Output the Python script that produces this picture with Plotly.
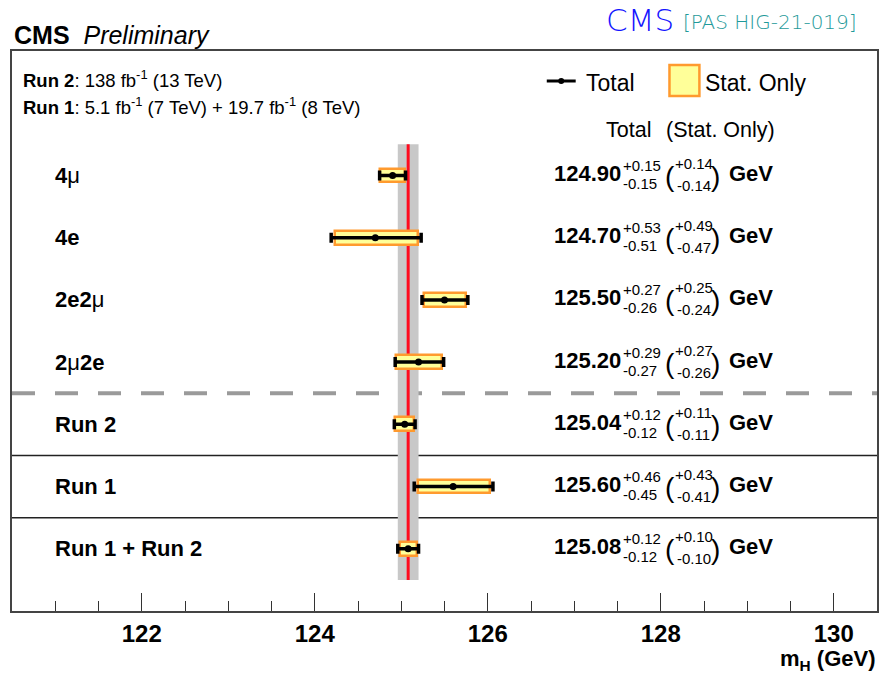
import plotly.graph_objects as go

# Higgs boson mass measurements in the H -> ZZ -> 4l channel
labels = ["<b>4</b>μ", "<b>4e</b>", "<b>2e2</b>μ", "<b>2</b>μ<b>2e</b>",
          "<b>Run 2</b>", "<b>Run 1</b>", "<b>Run 1 + Run 2</b>"]
mass = [124.90, 124.70, 125.50, 125.20, 125.04, 125.60, 125.08]
tot_hi = [0.15, 0.53, 0.27, 0.29, 0.12, 0.46, 0.12]
tot_lo = [0.15, 0.51, 0.26, 0.27, 0.12, 0.45, 0.12]
stat_hi = [0.14, 0.49, 0.25, 0.27, 0.11, 0.43, 0.10]
stat_lo = [0.14, 0.47, 0.24, 0.26, 0.11, 0.41, 0.10]

x_ticks = [122, 124, 126, 128, 130]

W, H = 881, 675
ML, MR, MT, MB = 12, 2, 51, 64
PW, PH = W - ML - MR, H - MT - MB

XMIN, XMAX = 120.5, 130.5
YMIN, YMAX = -1.0, 8.0

n = len(labels)
ypos = list(range(n - 1, -1, -1))

YELLOW = "#ffff99"
ORANGE = "#ff9a2e"
FONT = "Liberation Sans, Arial, Helvetica, sans-serif"


def px(xp):
    return (xp - ML) / PW


def py(yp):
    return (MT + PH - yp) / PH


def ypix(yv):
    return MT + (YMAX - yv) / (YMAX - YMIN) * PH


fig = go.Figure()

# stat-only boxes
fig.add_trace(go.Bar(
    orientation="h",
    y=ypos,
    x=[a + b for a, b in zip(stat_lo, stat_hi)],
    base=[m - lo for m, lo in zip(mass, stat_lo)],
    width=0.22,
    marker=dict(color=YELLOW, line=dict(color=ORANGE, width=2.5)),
    showlegend=False,
    hoverinfo="skip",
))

# total uncertainty bars with central value
fig.add_trace(go.Scatter(
    x=mass,
    y=ypos,
    mode="markers",
    marker=dict(color="black", size=7),
    error_x=dict(type="data", symmetric=False, array=tot_hi, arrayminus=tot_lo,
                 color="black", thickness=3.5, width=5),
    showlegend=False,
    hoverinfo="skip",
))

# combined result band and central line
comb = n - 1
shapes = [
    dict(type="rect", xref="x", yref="y",
         x0=mass[comb] - tot_lo[comb], x1=mass[comb] + tot_hi[comb],
         y0=-0.5, y1=n - 0.5, fillcolor="#c8c8c8", line=dict(width=0), layer="below"),
    dict(type="line", xref="paper", yref="y", x0=0, x1=1, y0=2.5, y1=2.5,
         line=dict(color="#9a9a9a", width=4, dash="23px,20px"), layer="below"),
    dict(type="line", xref="paper", yref="y", x0=0, x1=1, y0=1.5, y1=1.5,
         line=dict(color="#222222", width=1.5), layer="below"),
    dict(type="line", xref="paper", yref="y", x0=0, x1=1, y0=0.5, y1=0.5,
         line=dict(color="#222222", width=1.5), layer="below"),
    dict(type="line", xref="x", yref="y", x0=mass[comb], x1=mass[comb],
         y0=-0.5, y1=n - 0.5, line=dict(color="#ff0a1e", width=3), layer="below"),
]

# legend
shapes += [
    dict(type="line", xref="paper", yref="paper", x0=px(548), x1=px(577),
         y0=py(81), y1=py(81), line=dict(color="black", width=3)),
    dict(type="circle", xref="paper", yref="paper", x0=px(559.5), x1=px(565.5),
         y0=py(78), y1=py(84), fillcolor="black", line=dict(width=0)),
    dict(type="rect", xref="paper", yref="paper", x0=px(671), x1=px(701),
         y0=py(96), y1=py(65), fillcolor=YELLOW, line=dict(color=ORANGE, width=2.5)),
]

ann = []


def text(xp, yp, s, size, color="black", anchor="left", weight="normal", family=FONT):
    ann.append(dict(
        xref="paper", yref="paper", x=px(xp), y=py(yp), text=s, showarrow=False,
        xanchor=anchor, yanchor="middle",
        font=dict(family=family, size=size, color=color, weight=weight),
    ))


# header texts
text(12, 35, "<b>CMS</b>  <i>Preliminary</i>", 25)
text(605, 20, "CMS", 31, color="#1414ff", family="DejaVu Sans", weight=300)
text(683, 22, "[PAS HIG-21-019]", 20, color="#1f9a9a", family="DejaVu Sans", weight=300)
text(21, 79, "<b>Run 2</b>: 138 fb<sup>-1</sup> (13 TeV)", 18.5)
text(21, 106, "<b>Run 1</b>: 5.1 fb<sup>-1</sup> (7 TeV) + 19.7 fb<sup>-1</sup> (8 TeV)", 18.5)
text(585, 83, "Total", 23)
text(705, 83, "Stat. Only", 23)
text(605, 130, "Total", 21.5)
text(666, 130, "(Stat. Only)", 21.5)
text(W - MR, 660, "<b>m<sub>H</sub> (GeV)</b>", 22, anchor="right")

# row labels and values
s = 553
for i in range(n):
    r = ypix(ypos[i])
    text(53, r, labels[i], 22)
    text(s, r - 2, f"<b>{mass[i]:.2f}</b>", 22)
    text(s + 69, r - 10, f"+{tot_hi[i]:.2f}", 15)
    text(s + 69, r + 8, f"-{tot_lo[i]:.2f}", 15)
    text(s + 112, r + 1, "(", 28, weight=300)
    text(s + 122, r - 12, f"+{stat_hi[i]:.2f}", 15)
    text(s + 124, r + 10, f"-{stat_lo[i]:.2f}", 15)
    text(s + 158, r + 1, ")", 28, weight=300)
    text(s + 176, r - 2, "<b>GeV</b>", 22)

fig.update_layout(
    width=W, height=H,
    margin=dict(l=ML, r=MR, t=MT, b=MB),
    paper_bgcolor="white", plot_bgcolor="white",
    shapes=shapes, annotations=ann,
    showlegend=False,
    bargap=0,
    xaxis=dict(
        range=[XMIN, XMAX], tickvals=x_ticks, ticktext=[str(t) for t in x_ticks],
        ticks="inside", ticklen=18, tickwidth=1, tickcolor="#333333",
        minor=dict(dtick=0.5, tick0=0, ticks="inside", ticklen=10, tickcolor="#333333"),
        tickfont=dict(family=FONT, size=24, color="black", weight="bold"),
        showline=True, mirror=True, linecolor="#444444", linewidth=2,
        showgrid=False, zeroline=False,
    ),
    yaxis=dict(
        range=[YMIN, YMAX], showticklabels=False, ticks="",
        showline=True, mirror=True, linecolor="#444444", linewidth=2,
        showgrid=False, zeroline=False,
    ),
)

fig.write_html("out.html")
